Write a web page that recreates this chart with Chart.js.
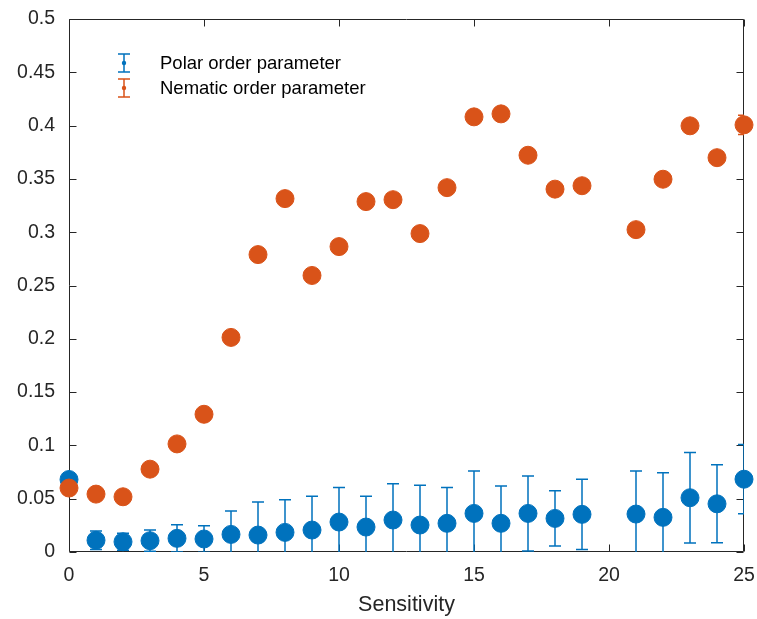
<!DOCTYPE html>
<html>
<head>
<meta charset="utf-8">
<script src="https://cdn.jsdelivr.net/npm/chart.js@4"></script>
<style>
html,body{margin:0;padding:0;background:#fff;}
#wrap{width:757px;height:619px;}
</style>
</head>
<body>
<div id="wrap"><canvas id="c" width="757" height="619"></canvas></div>
<script>
const sensitivity = [0,1,2,3,4,5,6,7,8,9,10,11,12,13,14,15,16,17,18,19,21,22,23,24,25];
const polar = [0.068,0.011,0.0096,0.0106,0.0128,0.0122,0.0165,0.0159,0.0184,0.0206,0.0281,0.0234,0.030,0.0253,0.0269,0.0362,0.0269,0.0362,0.0315,0.0353,0.0356,0.0325,0.0509,0.0452,0.0683];
const polarErr = [0.004,0.0087,0.008,0.010,0.0128,0.0124,0.0219,0.0311,0.0306,0.0318,0.0325,0.029,0.034,0.0374,0.0337,0.0399,0.0351,0.0352,0.0259,0.033,0.0405,0.0418,0.0424,0.0366,0.0325];
const nematic = [0.060,0.0543,0.0518,0.0777,0.1014,0.1292,0.2013,0.279,0.3315,0.2594,0.2865,0.3287,0.3305,0.2987,0.3418,0.4082,0.411,0.3722,0.3404,0.3436,0.3024,0.3497,0.3998,0.3699,0.4007];
const nematicErr = [0.004,0.004,0.004,0.004,0.004,0.004,0.004,0.004,0.004,0.004,0.004,0.004,0.004,0.004,0.004,0.004,0.004,0.004,0.004,0.004,0.004,0.004,0.004,0.004,0.009];
const seriesLabels = ['Polar order parameter','Nematic order parameter'];
const xTicks = [0,5,10,15,20,25];
const yTicks = [0,0.05,0.1,0.15,0.2,0.25,0.3,0.35,0.4,0.45,0.5];
const xTitle = 'Sensitivity';

const BLUE = '#0072BD', ORANGE = '#D95319', AX = '#262626';
const FONT = '"Liberation Sans", Arial, Helvetica, sans-serif';

function pts(ys){ return sensitivity.map((x,i)=>({x:x,y:ys[i]})); }

const errorBarPlugin = {
  id:'errorBars',
  beforeDatasetDraw(chart, args){
    const ds = chart.data.datasets[args.index];
    const errs = ds.errors; if(!errs) return;
    const xs = chart.scales.x, ys = chart.scales.y, ca = chart.chartArea;
    const ctx = chart.ctx;
    ctx.save();
    ctx.beginPath(); ctx.rect(ca.left, ca.top, ca.right-ca.left, ca.bottom-ca.top); ctx.clip();
    ctx.strokeStyle = ds.backgroundColor; ctx.lineWidth = 1.5;
    ds.data.forEach((p,i)=>{
      const px = xs.getPixelForValue(p.x);
      const yt = ys.getPixelForValue(p.y + errs[i]);
      const yb = ys.getPixelForValue(p.y - errs[i]);
      ctx.beginPath();
      ctx.moveTo(px, yt); ctx.lineTo(px, yb);
      ctx.moveTo(px-6, yt); ctx.lineTo(px+6, yt);
      ctx.moveTo(px-6, yb); ctx.lineTo(px+6, yb);
      ctx.stroke();
    });
    ctx.restore();
  }
};

const boxPlugin = {
  id:'box',
  beforeDatasetsDraw(chart){
    const ctx = chart.ctx, ca = chart.chartArea, xs = chart.scales.x, ys = chart.scales.y;
    ctx.save();
    ctx.strokeStyle = AX; ctx.lineWidth = 1;
    const L = Math.round(ca.left)+0.5, R = Math.round(ca.right)-0.5, T = Math.round(ca.top)+0.5, B = Math.round(ca.bottom)-0.5;
    ctx.beginPath();
    ctx.rect(L, T, R-L, B-T);
    xTicks.forEach(v=>{
      const px = Math.round(xs.getPixelForValue(v))+0.5;
      ctx.moveTo(px, B); ctx.lineTo(px, B-7);
      ctx.moveTo(px, T); ctx.lineTo(px, T+7);
    });
    yTicks.forEach(v=>{
      const py = Math.round(ys.getPixelForValue(v))+0.5;
      ctx.moveTo(L, py); ctx.lineTo(L+7, py);
      ctx.moveTo(R, py); ctx.lineTo(R-7, py);
    });
    ctx.stroke();
    ctx.restore();
  },
  afterDraw(chart){
    const ctx = chart.ctx;
    const colors = [BLUE, ORANGE];
    const rows = [63, 88];
    ctx.save();
    rows.forEach((cy,i)=>{
      const cx = 124;
      ctx.strokeStyle = colors[i]; ctx.fillStyle = colors[i]; ctx.lineWidth = 1.5;
      ctx.beginPath();
      ctx.moveTo(cx, cy-9); ctx.lineTo(cx, cy+9);
      ctx.moveTo(cx-6, cy-9); ctx.lineTo(cx+6, cy-9);
      ctx.moveTo(cx-6, cy+9); ctx.lineTo(cx+6, cy+9);
      ctx.stroke();
      ctx.beginPath(); ctx.arc(cx, cy, 2.2, 0, Math.PI*2); ctx.fill();
      ctx.fillStyle = '#000';
      ctx.font = '18.5px ' + FONT;
      ctx.textAlign = 'left'; ctx.textBaseline = 'middle';
      ctx.fillText(seriesLabels[i], 160, cy + 1);
    });
    ctx.restore();
  }
};

new Chart(document.getElementById('c'), {
  type:'scatter',
  data:{
    datasets:[
      {label:seriesLabels[0], data:pts(polar), errors:polarErr, backgroundColor:BLUE, borderColor:BLUE,
       pointRadius:9, pointBorderWidth:1, pointHoverRadius:9, order:1, clip:false},
      {label:seriesLabels[1], data:pts(nematic), errors:nematicErr, backgroundColor:ORANGE, borderColor:ORANGE,
       pointRadius:9, pointBorderWidth:1, pointHoverRadius:9, order:0, clip:false}
    ]
  },
  options:{
    responsive:false, animation:false, devicePixelRatio:1,
    layout:{padding:{left:0, right:13, top:19, bottom:0}},
    plugins:{legend:{display:false}, tooltip:{enabled:false}},
    scales:{
      x:{
        type:'linear', min:0, max:25,
        afterBuildTicks(s){ s.ticks = xTicks.map(v=>({value:v})); },
        afterFit(s){ s.height = 67; s.paddingLeft = 0; s.paddingRight = 0; },
        grid:{display:false, drawTicks:false},
        border:{display:false},
        ticks:{color:AX, font:{family:FONT, size:19.5}, padding:12, maxRotation:0, autoSkip:false,
               callback:(v)=>String(v)},
        title:{display:true, text:xTitle, color:AX, font:{family:FONT, size:21.5}, padding:{top:0,bottom:1}}
      },
      y:{
        type:'linear', min:0, max:0.5,
        afterBuildTicks(s){ s.ticks = yTicks.map(v=>({value:v})); },
        afterFit(s){ s.width = 69; s.paddingTop = 0; s.paddingBottom = 0; },
        grid:{display:false, drawTicks:false},
        border:{display:false},
        ticks:{color:AX, font:{family:FONT, size:19.5}, padding:14, autoSkip:false,
               callback:(v)=>String(Number(v.toFixed(2)))}
      }
    }
  },
  plugins:[errorBarPlugin, boxPlugin]
});
</script>
</body>
</html>
